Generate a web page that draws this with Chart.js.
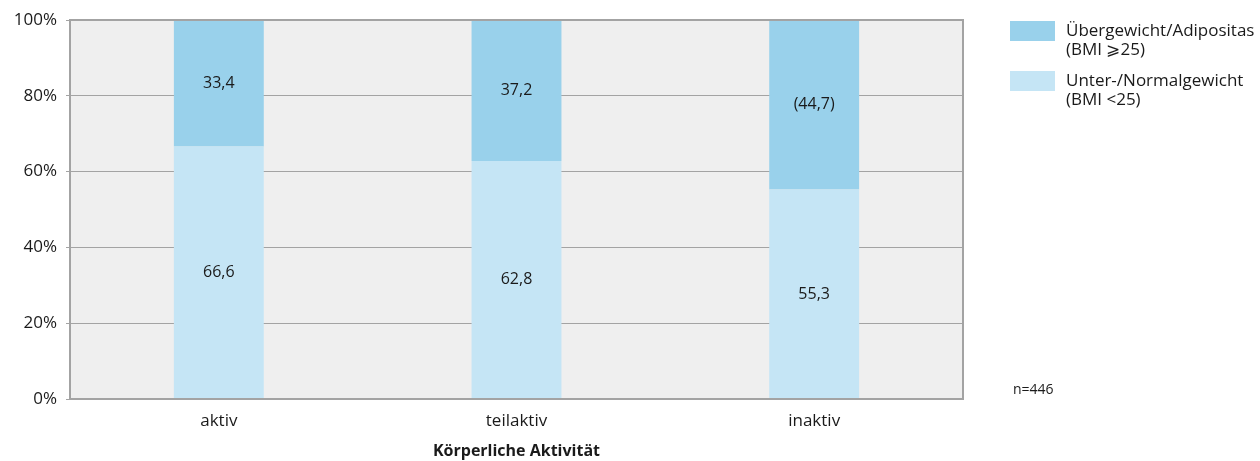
<!DOCTYPE html>
<html><head><meta charset="utf-8">
<script src="https://cdn.jsdelivr.net/npm/chart.js@4/dist/chart.umd.min.js"></script>
<style>html,body{margin:0;padding:0;background:#fff}#wrap{width:1260px;height:461px}</style>
</head><body><div id="wrap"><canvas id="c" width="1260" height="461"></canvas></div>
<script>
const categories = ['aktiv', 'teilaktiv', 'inaktiv'];
const normalValues = [66.6, 62.8, 55.3];
const overValues = [33.4, 37.2, 44.7];
const normalLabels = ['66,6', '62,8', '55,3'];
const overLabels = ['33,4', '37,2', '(44,7)'];
const seriesNames = [['Übergewicht/Adipositas', '(BMI \u2A7E25)'], ['Unter-/Normalgewicht', '(BMI <25)']];
const yTicks = [0, 20, 40, 60, 80, 100];
const xTitle = 'Körperliche Aktivität';
const note = 'n=446';

const FONT = '"Open Sans", Lato, sans-serif';
const C_OVER = '#99d1eb';
const C_NORM = '#c5e5f5';

const bgPlugin = {
  id: 'bg',
  beforeDraw(chart) {
    const {ctx, chartArea: a} = chart;
    ctx.save();
    ctx.fillStyle = '#efefef';
    ctx.fillRect(a.left, a.top, a.right - a.left, a.bottom - a.top);
    ctx.restore();
  },
  afterDatasetsDraw(chart) {
    const {ctx, chartArea: a} = chart;
    ctx.save();
    ctx.strokeStyle = '#a3a3a3';
    ctx.lineWidth = 2;
    ctx.strokeRect(a.left, a.top, a.right - a.left, a.bottom - a.top);
    ctx.fillStyle = '#1a1a1a';
    ctx.font = '16px ' + FONT;
    ctx.textAlign = 'center';
    ctx.textBaseline = 'middle';
    const lbls = [normalLabels, overLabels];
    chart.data.datasets.forEach((ds, di) => {
      const meta = chart.getDatasetMeta(di);
      meta.data.forEach((bar, i) => {
        const p = bar.getProps(['x', 'y', 'base'], true);
        ctx.fillText(lbls[di][i], p.x, (p.y + p.base) / 2);
      });
    });
    const cols = [C_OVER, C_NORM];
    ctx.font = '17px ' + FONT;
    ctx.textAlign = 'left';
    seriesNames.forEach((lines, i) => {
      const y0 = 21 + i * 50;
      ctx.fillStyle = cols[i];
      ctx.fillRect(1010, y0, 45, 20);
      ctx.fillStyle = '#1a1a1a';
      lines.forEach((t, j) => ctx.fillText(t, 1066, y0 + 10 + j * 19));
    });
    ctx.font = '14px ' + FONT;
    ctx.fillText(note, 1013, 390);
    ctx.restore();
  }
};

new Chart(document.getElementById('c'), {
  type: 'bar',
  data: {
    labels: categories,
    datasets: [
      { label: 'Unter-/Normalgewicht (BMI <25)', data: normalValues, backgroundColor: C_NORM, borderWidth: 0, categoryPercentage: 1, barPercentage: 0.302 },
      { label: 'Übergewicht/Adipositas (BMI ≥25)', data: overValues, backgroundColor: C_OVER, borderWidth: 0, categoryPercentage: 1, barPercentage: 0.302 }
    ]
  },
  options: {
    responsive: false,
    animation: false,
    layout: { padding: { top: 20, right: 297, left: 0, bottom: 0 } },
    plugins: { legend: { display: false }, tooltip: { enabled: false } },
    scales: {
      x: {
        stacked: true,
        grid: { display: false, drawTicks: false },
        border: { display: false },
        ticks: { color: '#1a1a1a', font: { family: FONT, size: 17 }, padding: 12 },
        title: { display: true, text: xTitle, color: '#1a1a1a', font: { family: FONT, size: 16, weight: 'bold' }, padding: { top: 9, bottom: 0 } },
        afterFit(s) { s.height = 62; }
      },
      y: {
        stacked: true,
        min: 0, max: 100,
        afterBuildTicks(s) { s.ticks = yTicks.map(v => ({ value: v })); },
        grid: { color: '#a3a3a3', lineWidth: 1, tickLength: 4, tickColor: '#a3a3a3' },
        border: { display: false },
        ticks: { color: '#1a1a1a', font: { family: FONT, size: 17 }, padding: 9, callback: v => v + '%' },
        afterFit(s) { s.width = 70; }
      }
    }
  },
  plugins: [bgPlugin]
});
</script></body></html>
